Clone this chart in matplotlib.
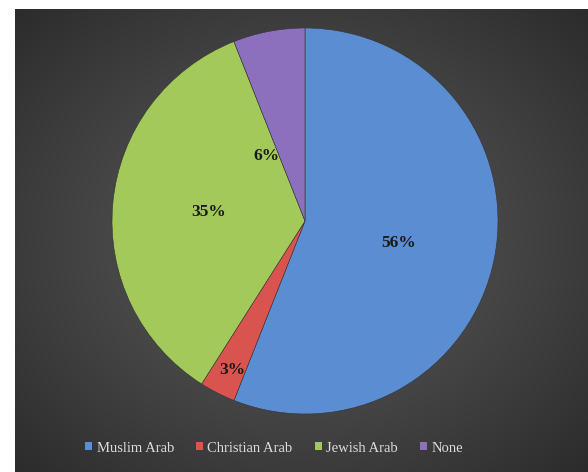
import numpy as np
import matplotlib
matplotlib.use("Agg")
import matplotlib.pyplot as plt
from matplotlib.patches import Patch

categories = ["Muslim Arab", "Christian Arab", "Jewish Arab", "None"]
values = [56, 3, 35, 6]
colors = ["#5B8DD3", "#D9544F", "#A3C95A", "#8C70BD"]
# label placement (fraction of radius, angle offset in degrees) per wedge
label_r = [0.50, 0.86, 0.50, 0.39]
label_da = [-2.5, 1.0, 0.0, 20.0]

W, H = 588, 472
fig = plt.figure(figsize=(W / 100, H / 100), dpi=100)
fig.patch.set_facecolor("white")

# dark background panel with radial gradient
bx0, by0 = 15, 9
bg = fig.add_axes([bx0 / W, 0, (W - bx0) / W, (H - by0) / H])
bg.set_axis_off()
nx, ny = W - bx0, H - by0
yy, xx = np.mgrid[0:ny, 0:nx]
cx, cy = 300 - bx0, 240 - by0
d = np.sqrt(((xx - cx) / nx) ** 2 + ((yy - cy) / ny) ** 2)
d = d / d.max()
v = 0.35 - 0.18 * d ** 1.2
img = np.dstack([v, v, v])
bg.imshow(img, aspect="auto", extent=[0, 1, 0, 1], origin="upper")
bg.set_xlim(0, 1)
bg.set_ylim(0, 1)

# pie axes
pcx, pcy, r = 305, 221, 193
ax = fig.add_axes([(pcx - r) / W, 1 - (pcy + r) / H, 2 * r / W, 2 * r / H])
ax.set_axis_off()
wedges, _ = ax.pie(values, colors=colors, startangle=90, counterclock=False,
                   radius=1.0,
                   wedgeprops=dict(edgecolor="#333333", linewidth=0.4))
ax.set_xlim(-1, 1)
ax.set_ylim(-1, 1)
ax.set_aspect("equal")

total = sum(values)
for w, val, lr, da in zip(wedges, values, label_r, label_da):
    mid = np.deg2rad((w.theta1 + w.theta2) / 2 + da)
    ax.text(lr * np.cos(mid), lr * np.sin(mid), f"{round(100 * val / total)}%",
            ha="center", va="center", fontsize=12.5, fontweight="bold",
            family="Liberation Serif", color="#1a1a1a")

handles = [Patch(facecolor=c, edgecolor="none") for c in colors]
leg = fig.legend(handles, categories, loc="center", ncol=4,
                 bbox_to_anchor=(274 / W, 1 - 448 / H), frameon=False,
                 handlelength=0.5, handleheight=0.5, handletextpad=0.3,
                 columnspacing=1.5,
                 prop=dict(family="Liberation Serif", size=10.5))
for t in leg.get_texts():
    t.set_color("#dcdcdc")

fig.savefig("out.png", dpi=100, facecolor=fig.get_facecolor())
